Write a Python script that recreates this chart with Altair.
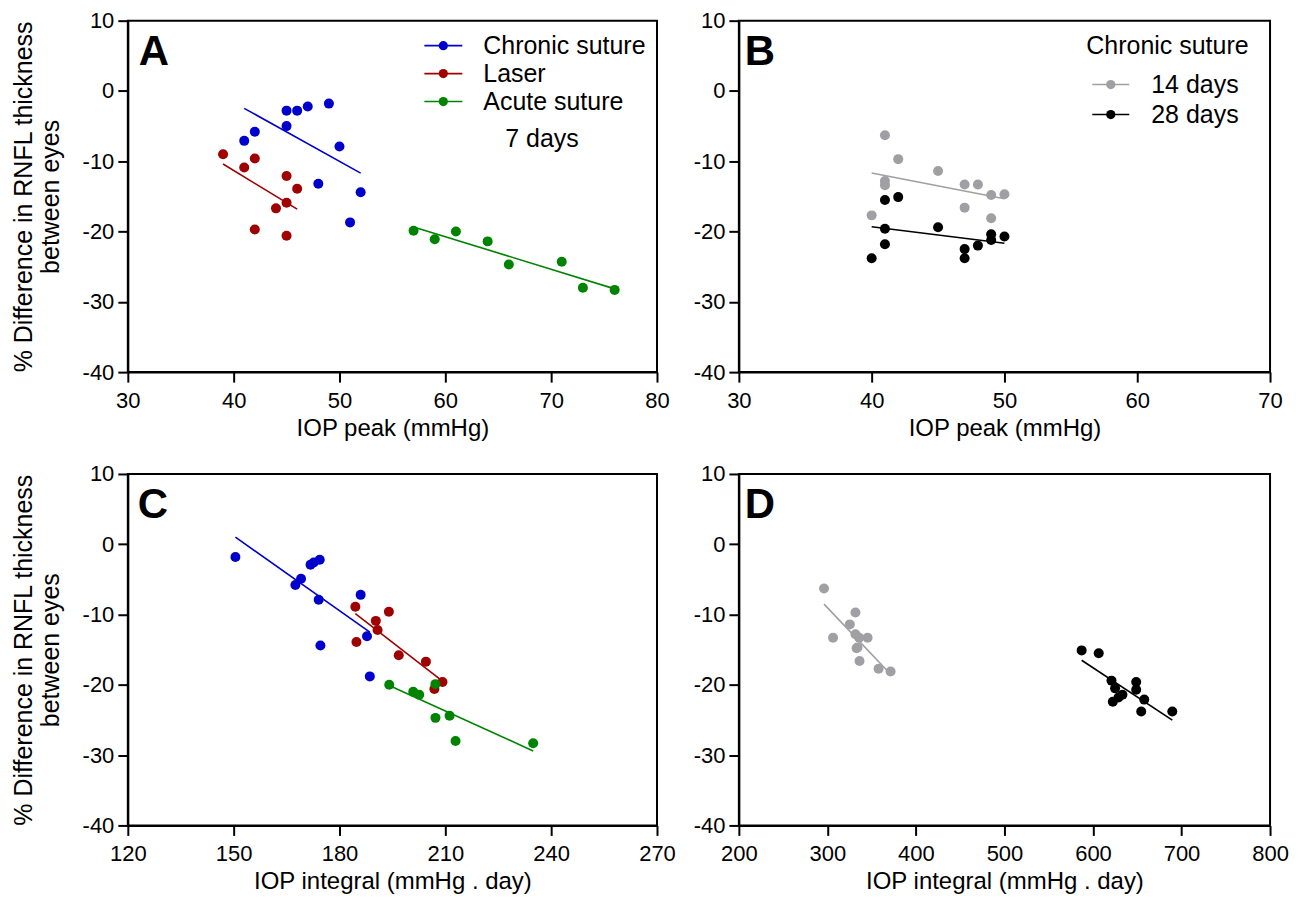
import altair as alt
import pandas as pd

FONT = "Liberation Sans"

GROUPS = ["Chronic suture", "Laser", "Acute suture", "14 days", "28 days"]
COLORS = ["#0000cc", "#a00000", "#008400", "#a0a0a4", "#000000"]

Y_TICKS = [-40, -30, -20, -10, 0, 10]

# Panel A: IOP peak vs % difference (7 days)
a_chronic_x = [45, 46, 47, 49, 45, 42, 41, 50, 48, 52, 51]
a_chronic_y = [-2.8, -2.8, -2.2, -1.8, -5.0, -5.8, -7.1, -7.9, -13.2, -14.4, -18.7]
a_laser_x = [39, 42, 41, 45, 46, 45, 44, 42, 45]
a_laser_y = [-9.0, -9.6, -10.9, -12.1, -13.9, -15.9, -16.7, -19.7, -20.6]
a_acute_x = [57, 59, 61, 64, 66, 71, 73, 76]
a_acute_y = [-19.9, -21.1, -20.0, -21.4, -24.7, -24.3, -28.0, -28.3]

# Panel B: chronic suture, IOP peak
b_14_x = [41, 42, 45, 41, 41, 47, 48, 49, 50, 47, 40, 49]
b_14_y = [-6.3, -9.7, -11.4, -12.8, -13.4, -13.3, -13.3, -14.8, -14.7, -16.6, -17.7, -18.1]
b_28_x = [41, 42, 41, 45, 49, 50, 49, 48, 41, 47, 47, 40]
b_28_y = [-15.5, -15.1, -19.6, -19.4, -20.4, -20.7, -21.2, -22.0, -21.8, -22.5, -23.8, -23.8]

# Panel C: IOP integral (7 days)
c_chronic_x = [150.5, 171.8, 172.7, 174.4, 169.1, 167.5, 174.1, 186.0, 187.8, 174.6, 188.6]
c_chronic_y = [-1.8, -2.9, -2.6, -2.2, -4.9, -5.8, -7.9, -7.2, -13.1, -14.4, -18.8]
c_laser_x = [184.5, 194.0, 190.3, 190.8, 184.8, 196.8, 204.5, 209.2, 206.9]
c_laser_y = [-8.9, -9.6, -10.9, -12.2, -13.9, -15.8, -16.7, -19.6, -20.6]
c_acute_x = [194.1, 200.9, 202.6, 207.2, 211.2, 207.2, 212.9, 234.9]
c_acute_y = [-20.0, -21.0, -21.4, -19.9, -24.4, -24.7, -28.0, -28.3]

# Panel D: chronic suture, IOP integral
d_14_x = [296.2, 331.7, 325.3, 306.4, 331.7, 335.9, 345.4, 334.0, 333.0, 336.3, 357.8, 371.4]
d_14_y = [-6.3, -9.7, -11.4, -13.3, -12.8, -13.3, -13.3, -14.7, -14.8, -16.6, -17.7, -18.1]
d_28_x = [587.2, 606.5, 620.9, 648.8, 625.0, 648.8, 633.3, 628.8, 657.9, 622.4, 654.5, 689.6]
d_28_y = [-15.1, -15.5, -19.4, -19.6, -20.5, -20.7, -21.4, -21.8, -22.1, -22.4, -23.8, -23.8]

Y_TITLE = ["% Difference in RNFL thickness", "between eyes"]

color_scale = alt.Scale(domain=GROUPS, range=COLORS)
COLOR_OF = dict(zip(GROUPS, COLORS))


def make_df(series):
    rows = []
    for name, xs, ys in series:
        for x, y in zip(xs, ys):
            rows.append({"group": name, "x": x, "y": y})
    return pd.DataFrame(rows)


ONE = pd.DataFrame({"k": [0]})


def text_layer(txt, x, y, size, weight="normal", align="left"):
    return alt.Chart(pd.DataFrame({"t": [txt]})).mark_text(
        font=FONT, fontSize=size, fontWeight=weight, align=align,
        baseline="middle" if weight == "normal" else "alphabetic", color="black"
    ).encode(text="t:N", x=alt.value(x), y=alt.value(y))


def legend_entry(group, y, x0, x1, xlabel):
    c = COLOR_OF[group]
    rule = alt.Chart(ONE).mark_rule(color=c, strokeWidth=1.6).encode(
        x=alt.value(x0), x2=alt.value(x1), y=alt.value(y))
    dot = alt.Chart(ONE).mark_circle(color=c, size=85, opacity=1).encode(
        x=alt.value((x0 + x1) / 2), y=alt.value(y))
    lab = text_layer(group, xlabel, y, 25)
    return [rule, dot, lab]


def panel(df, xdomain, xticks, xtitle, ytitle, letter, letter_x, extra, width, height):
    xenc = alt.X("x:Q", scale=alt.Scale(domain=xdomain, nice=False, zero=False),
                 axis=alt.Axis(values=xticks, title=xtitle, labelExpr="'' + datum.value"))
    yaxis_kw = dict(values=Y_TICKS, labelExpr="'' + datum.value")
    if ytitle:
        yaxis_kw["title"] = ytitle
    else:
        yaxis_kw["title"] = ""
    yenc = alt.Y("y:Q", scale=alt.Scale(domain=[-40, 10], nice=False, zero=False),
                 axis=alt.Axis(**yaxis_kw))
    cenc = alt.Color("group:N", scale=color_scale, legend=None)
    base = alt.Chart(df)
    lines = base.transform_regression("x", "y", groupby=["group"]).mark_line(
        strokeWidth=1.6).encode(x=xenc, y=yenc, color=cenc)
    pts = base.mark_circle(size=100, opacity=1).encode(x=xenc, y=yenc, color=cenc)
    lett = text_layer(letter, letter_x, 44, 42, weight="bold")
    return alt.layer(lines, pts, lett, *extra).properties(width=width, height=height)


df_a = make_df([("Chronic suture", a_chronic_x, a_chronic_y),
                ("Laser", a_laser_x, a_laser_y),
                ("Acute suture", a_acute_x, a_acute_y)])
df_b = make_df([("14 days", b_14_x, b_14_y), ("28 days", b_28_x, b_28_y)])
df_c = make_df([("Chronic suture", c_chronic_x, c_chronic_y),
                ("Laser", c_laser_x, c_laser_y),
                ("Acute suture", c_acute_x, c_acute_y)])
df_d = make_df([("14 days", d_14_x, d_14_y), ("28 days", d_28_x, d_28_y)])

leg_a = []
for i, g in enumerate(["Chronic suture", "Laser", "Acute suture"]):
    leg_a += legend_entry(g, 25 + 28 * i, 297, 335, 356)
leg_a.append(text_layer("7 days", 378, 119, 25))

leg_b = [text_layer("Chronic suture", 348, 25, 25)]
for i, g in enumerate(["14 days", "28 days"]):
    leg_b += legend_entry(g, 64 + 30 * i, 354, 391, 413)

W1, W2, H = 530, 532, 352

pa = panel(df_a, [30, 80], [30, 40, 50, 60, 70, 80], "IOP peak (mmHg)", Y_TITLE, "A", 11, leg_a, W1, H)
pb = panel(df_b, [30, 70], [30, 40, 50, 60, 70], "IOP peak (mmHg)", None, "B", 6, leg_b, W2, H)
pc = panel(df_c, [120, 270], [120, 150, 180, 210, 240, 270], "IOP integral (mmHg . day)", Y_TITLE, "C", 10, [], W1, H)
pd_ = panel(df_d, [200, 800], [200, 300, 400, 500, 600, 700, 800], "IOP integral (mmHg . day)", None, "D", 6, [], W2, H)

chart = alt.concat(
    pa, pb, pc, pd_, columns=2, spacing={"row": 102, "column": 82}, bounds="flush"
).properties(
    padding={"left": 2, "top": 0, "right": 5, "bottom": 0}
).configure(font=FONT).configure_axis(
    domainColor="black", domainWidth=2, tickColor="black", tickWidth=2, tickSize=10,
    labelFont=FONT, labelFontSize=22, labelColor="black",
    titleFont=FONT, titleFontSize=24, titleFontWeight="normal", titleColor="black",
    grid=False, labelFlush=False, labelOverlap=False
).configure_axisX(labelPadding=8, titlePadding=5).configure_axisY(
    labelPadding=4, titlePadding=19, titleFontSize=25, titleLineHeight=27
).configure_view(stroke="black", strokeWidth=2)

chart.save("out.html", embed_options={"renderer": "svg", "actions": False})
